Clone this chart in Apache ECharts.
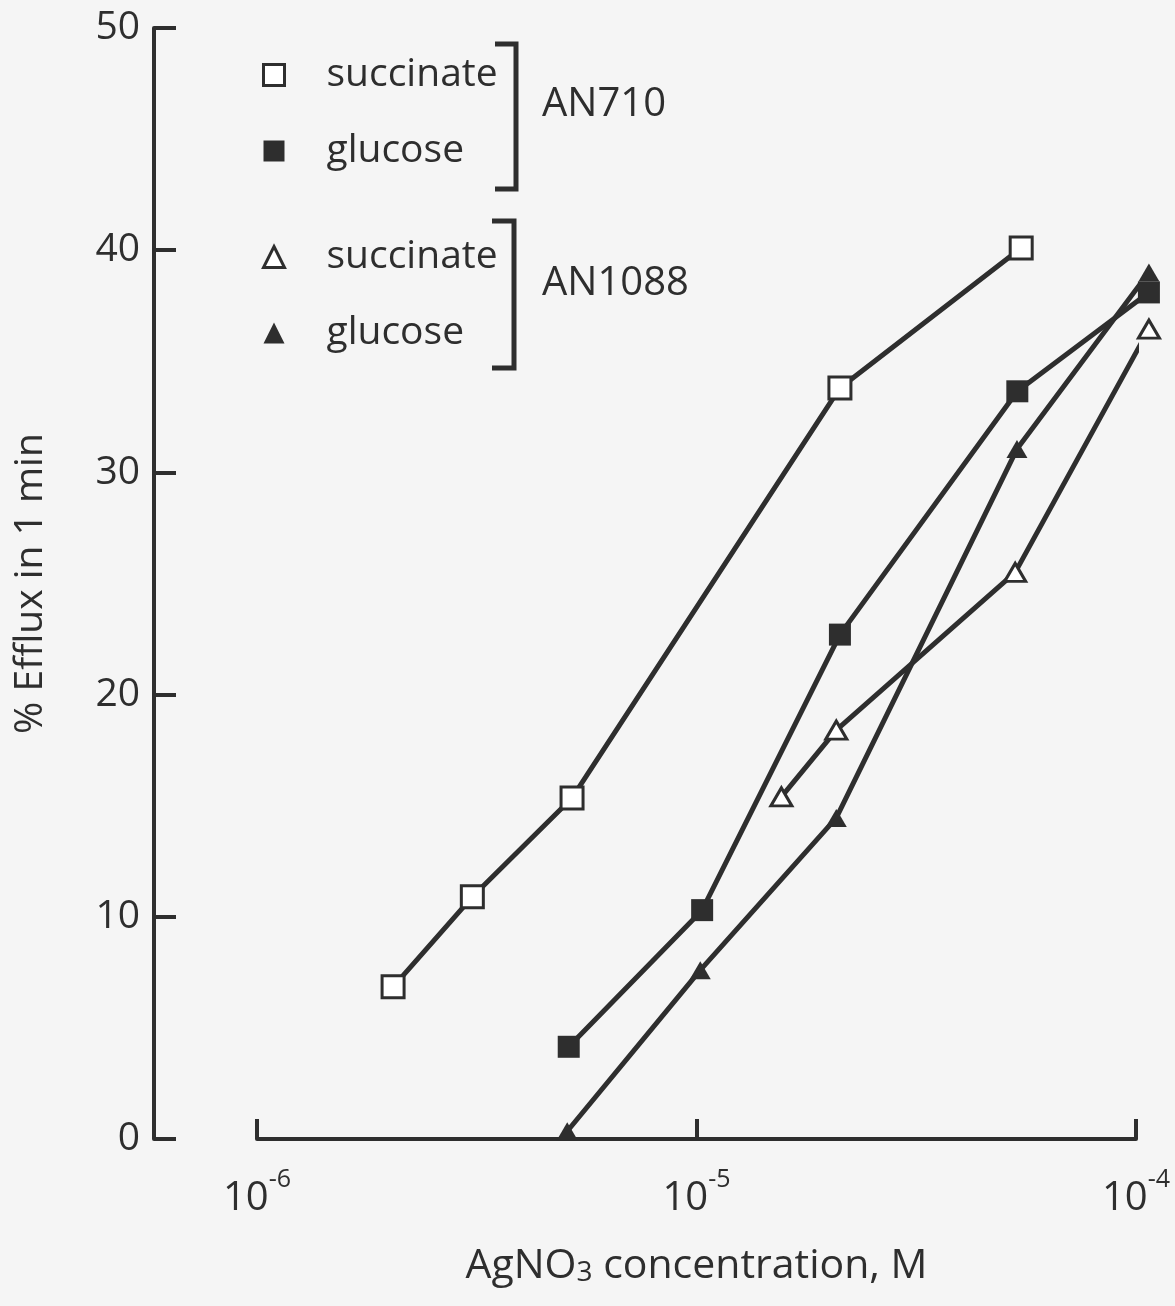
<!DOCTYPE html>
<html>
<head>
<meta charset="utf-8">
<script src="https://cdn.jsdelivr.net/npm/echarts@6/dist/echarts.min.js"></script>
<style>
  html, body { margin: 0; padding: 0; background: #f5f5f5; }
  #chart { width: 1175px; height: 1306px; }
</style>
</head>
<body>
<div id="chart"></div>
<script>
// ---- data ----
const seriesNames = ['AN710 succinate', 'AN710 glucose', 'AN1088 succinate', 'AN1088 glucose'];
const legendLabels = ['succinate', 'glucose', 'succinate', 'glucose'];
const strainLabels = ['AN710', 'AN1088'];

const an710SuccinateX = [2.04e-6, 3.09e-6, 5.21e-6, 2.12e-5, 5.48e-5];
const an710SuccinateY = [6.85, 10.9, 15.35, 33.8, 40.1];

const an710GlucoseX = [5.12e-6, 1.03e-5, 2.12e-5, 5.37e-5, 1.07e-4];
const an710GlucoseY = [4.15, 10.3, 22.7, 33.65, 38.1];

const an1088SuccinateX = [1.56e-5, 2.08e-5, 5.31e-5, 1.07e-4];
const an1088SuccinateY = [15.4, 18.4, 25.5, 36.45];

const an1088GlucoseX = [5.08e-6, 1.02e-5, 2.08e-5, 5.36e-5, 1.07e-4];
const an1088GlucoseY = [0.35, 7.6, 14.45, 31.05, 39.0];

const xMin = 1e-6, xMax = 1e-4;
const yMin = 0, yMax = 50, yStep = 10;

// ---- styling ----
const INK = '#2e2e2e';
const FONT = 'Open Sans';

function pairs(xs, ys) { return xs.map((x, i) => [x, ys[i]]); }

const markerStyles = [
  { symbol: 'rect', symbolSize: 22, itemStyle: { color: '#ffffff', borderColor: INK, borderWidth: 3 } },
  { symbol: 'rect', symbolSize: 22, itemStyle: { color: INK, borderColor: INK, borderWidth: 0 } },
  { symbol: 'triangle', symbolSize: [21, 18], itemStyle: { color: '#ffffff', borderColor: INK, borderWidth: 3 } },
  { symbol: 'triangle', symbolSize: [21, 18], itemStyle: { color: INK, borderColor: INK, borderWidth: 0 } }
];
const seriesData = [
  pairs(an710SuccinateX, an710SuccinateY),
  pairs(an710GlucoseX, an710GlucoseY),
  pairs(an1088SuccinateX, an1088SuccinateY),
  pairs(an1088GlucoseX, an1088GlucoseY)
];

const series = seriesNames.map((name, i) => ({
  name: name,
  type: 'line',
  data: seriesData[i],
  symbol: markerStyles[i].symbol,
  symbolSize: markerStyles[i].symbolSize,
  itemStyle: markerStyles[i].itemStyle,
  lineStyle: { color: INK, width: 5 },
  showSymbol: true,
  clip: false,
  z: 2 + i,
  emphasis: { disabled: true }
}));

function legendFor(idxs, top) {
  return {
    orient: 'vertical',
    left: 262,
    top: top,
    padding: 0,
    itemGap: 36,
    itemWidth: 21,
    itemHeight: 21,
    selectedMode: false,
    textStyle: { fontFamily: FONT, fontSize: 39, color: INK, lineHeight: 40, padding: [0, 0, 0, 37] },
    formatter: name => legendLabels[seriesNames.indexOf(name)],
    data: idxs.map(i => ({
      name: seriesNames[i],
      icon: markerStyles[i].symbol,
      itemStyle: markerStyles[i].itemStyle
    }))
  };
}

const chart = echarts.init(document.getElementById('chart'), null, { renderer: 'canvas' });
chart.setOption({
  backgroundColor: '#f5f5f5',
  animation: false,
  grid: { left: 257, right: 39, top: 28, bottom: 167, containLabel: false },
  legend: [legendFor([0, 1], 55), legendFor([2, 3], 237)],
  xAxis: {
    type: 'log',
    logBase: 10,
    min: xMin,
    max: xMax,
    offset: 8,
    name: '{n|AgNO}{sub|3}{n| concentration, M}',
    nameLocation: 'middle',
    nameGap: 90,
    nameTextStyle: {
      fontFamily: FONT, color: INK,
      rich: {
        n: { fontFamily: FONT, fontSize: 41, color: INK, lineHeight: 50, verticalAlign: 'bottom' },
        sub: { fontFamily: FONT, fontSize: 28, color: INK, lineHeight: 40, verticalAlign: 'bottom' }
      }
    },
    axisLine: { show: true, lineStyle: { color: INK, width: 4 } },
    axisTick: { show: true, inside: true, length: 20, lineStyle: { color: INK, width: 4 } },
    minorTick: { show: false },
    splitLine: { show: false },
    axisLabel: {
      margin: 20,
      formatter: v => '{b|10}{s|' + Math.round(Math.log10(v)) + '}',
      rich: {
        b: { fontFamily: FONT, fontSize: 40, color: INK, lineHeight: 52, verticalAlign: 'bottom' },
        s: { fontFamily: FONT, fontSize: 25, color: INK, lineHeight: 25, verticalAlign: 'top' }
      }
    }
  },
  yAxis: {
    type: 'value',
    min: yMin,
    max: yMax,
    interval: yStep,
    offset: 103,
    name: '% Efflux in 1 min',
    nameLocation: 'middle',
    nameGap: 104,
    nameRotate: 90,
    nameTextStyle: { fontFamily: FONT, fontSize: 39, color: INK },
    axisLine: { show: true, lineStyle: { color: INK, width: 4 } },
    axisTick: { show: true, inside: true, length: 22, lineStyle: { color: INK, width: 4 } },
    splitLine: { show: false },
    axisLabel: { fontFamily: FONT, fontSize: 39, color: INK, margin: 14 }
  },
  graphic: [
    { type: 'polyline', shape: { points: [[495, 44], [516, 44], [516, 189], [495, 189]] },
      style: { stroke: INK, lineWidth: 5, fill: null }, silent: true },
    { type: 'polyline', shape: { points: [[492, 221], [514, 221], [514, 368], [492, 368]] },
      style: { stroke: INK, lineWidth: 5, fill: null }, silent: true },
    { type: 'text', left: 542, top: 111 - 26,
      style: { text: strainLabels[0], font: '40px "Open Sans"', fill: INK } },
    { type: 'text', left: 542, top: 290 - 26,
      style: { text: strainLabels[1], font: '40px "Open Sans"', fill: INK } }
  ],
  series: series
});
</script>
</body>
</html>
